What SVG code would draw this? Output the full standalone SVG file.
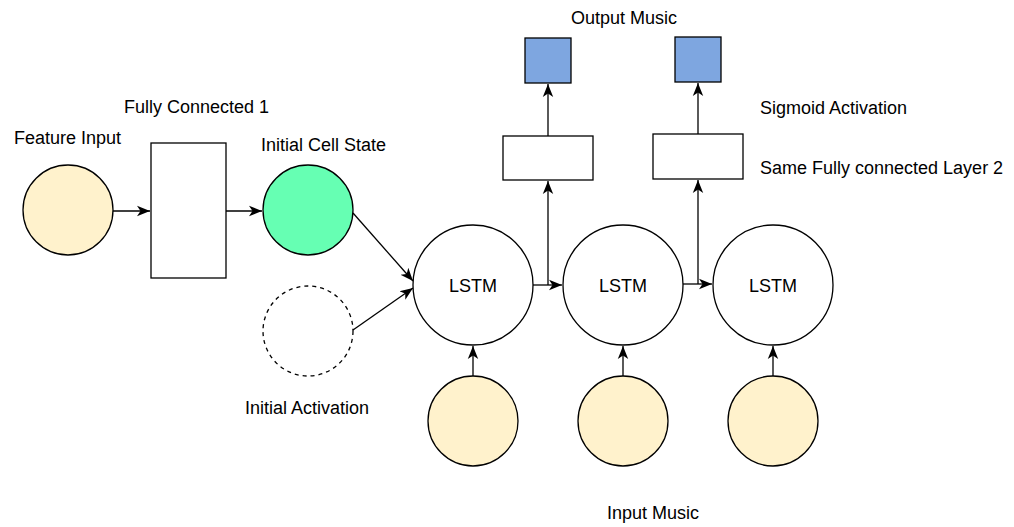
<svg xmlns="http://www.w3.org/2000/svg" width="1014" height="527" viewBox="0 0 1014 527">
<style>
.t{font-family:"Liberation Sans",Arial,sans-serif;font-size:18px;fill:#000}
.c{text-anchor:middle}
.s{stroke:#000;stroke-width:1.3}
.y{fill:#FFF2CC}
.w{fill:#fff}
.b{fill:#7EA6E0}
.l{fill:none;stroke:#000;stroke-width:1.3}
</style>
<defs>
<marker id="a" markerUnits="userSpaceOnUse" markerWidth="14" markerHeight="12" refX="13" refY="6" orient="auto">
<path d="M0,0.8 L13,6 L0,11.2 L3.5,6 Z" fill="#000"/>
</marker>
</defs>
<rect width="1014" height="527" fill="#fff"/>
<g id="connectors">
<path class="l" d="M113,211 L150,211" marker-end="url(#a)"/>
<path class="l" d="M226,211 L262,211" marker-end="url(#a)"/>
<path class="l" d="M353,213 L413,281" marker-end="url(#a)"/>
<path class="l" d="M353,330 L413,288" marker-end="url(#a)"/>
<path class="l" d="M533,285 L562,285" marker-end="url(#a)"/>
<path class="l" d="M683,284 L712,284" marker-end="url(#a)"/>
<path class="l" d="M548,285 L548,181" marker-end="url(#a)"/>
<path class="l" d="M698,284 L698,180" marker-end="url(#a)"/>
<path class="l" d="M548,136 L548,84" marker-end="url(#a)"/>
<path class="l" d="M698,134 L698,83" marker-end="url(#a)"/>
<path class="l" d="M473,376 L473,346" marker-end="url(#a)"/>
<path class="l" d="M623,376 L623,346" marker-end="url(#a)"/>
<path class="l" d="M773,376 L773,346" marker-end="url(#a)"/>
</g>
<g id="feature-input">
<circle class="s y" cx="68" cy="210" r="45"/>
<text class="t" x="14" y="144">Feature Input</text>
</g>
<g id="fc1">
<rect class="s w" x="151" y="143" width="75" height="135"/>
<text class="t" x="124" y="113">Fully Connected 1</text>
</g>
<g id="initial-cell-state">
<circle class="s" fill="#66FFB3" cx="308" cy="210" r="45"/>
<text class="t" x="261" y="151">Initial Cell State</text>
</g>
<g id="initial-activation">
<circle cx="308" cy="331" r="45" fill="none" stroke="#000" stroke-width="1.3" stroke-dasharray="4 4"/>
<text class="t" x="245" y="414">Initial Activation</text>
</g>
<g id="lstm1">
<circle class="s w" cx="473" cy="285" r="60"/>
<text class="t c" x="473" y="292">LSTM</text>
</g>
<g id="lstm2">
<circle class="s w" cx="623" cy="285" r="60"/>
<text class="t c" x="623" y="292">LSTM</text>
</g>
<g id="lstm3">
<circle class="s w" cx="773" cy="285" r="60"/>
<text class="t c" x="773" y="292">LSTM</text>
</g>
<g id="fc2a">
<rect class="s w" x="503" y="136" width="90" height="44"/>
</g>
<g id="fc2b">
<rect class="s w" x="653" y="134" width="90" height="45"/>
</g>
<g id="out1">
<rect class="s b" x="525" y="38" width="46" height="45"/>
</g>
<g id="out2">
<rect class="s b" x="675" y="37" width="46" height="45"/>
</g>
<g id="in1">
<circle class="s y" cx="473" cy="421" r="45"/>
</g>
<g id="in2">
<circle class="s y" cx="623" cy="421" r="45"/>
</g>
<g id="in3">
<circle class="s y" cx="773" cy="421" r="45"/>
</g>
<g id="labels">
<text class="t" x="571" y="24">Output Music</text>
<text class="t" x="760" y="114">Sigmoid Activation</text>
<text class="t" x="760" y="174">Same Fully connected Layer 2</text>
<text class="t" x="607" y="519">Input Music</text>
</g>
</svg>
